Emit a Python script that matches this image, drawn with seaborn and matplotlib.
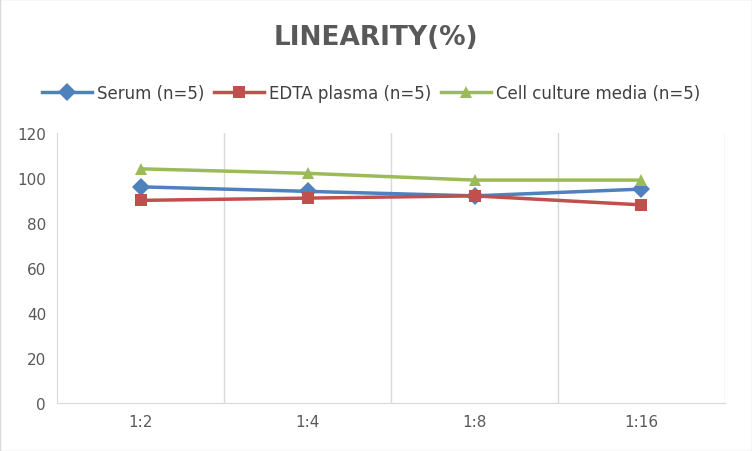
import matplotlib
matplotlib.use("Agg")
import matplotlib.pyplot as plt
import seaborn as sns
import pandas as pd

categories = ["1:2", "1:4", "1:8", "1:16"]
serum = [96, 94, 92, 95]
edta = [90, 91, 92, 88]
cell = [104, 102, 99, 99]
series_names = ["Serum (n=5)", "EDTA plasma (n=5)", "Cell culture media (n=5)"]

rows = []
for name, vals in zip(series_names, [serum, edta, cell]):
    for i, v in enumerate(vals):
        rows.append({"x": i, "y": v, "series": name})
df = pd.DataFrame(rows)

fig = plt.figure(figsize=(7.52, 4.52), dpi=100)
ax = fig.add_axes([0.076, 0.106, 0.888, 0.598])
colors = ["#4F81BD", "#C0504D", "#9BBB59"]
markers = ["D", "s", "^"]
sns.lineplot(data=df, x="x", y="y", hue="series", style="series", markers=markers,
             dashes=False, palette=colors, linewidth=2.5, markersize=9,
             markeredgewidth=0, ax=ax)
ax.set_xlim(-0.5, 3.5)
ax.set_ylim(0, 120)
ax.set_yticks(range(0, 121, 20))
ax.set_xticks(range(4))
ax.set_xticklabels(categories)
for xv in [0.5, 1.5, 2.5, 3.5]:
    ax.axvline(xv, color="#D9D9D9", lw=1, zorder=0)
for s in ["top", "right"]:
    ax.spines[s].set_visible(False)
ax.spines["left"].set_color("#D9D9D9")
ax.spines["bottom"].set_color("#D9D9D9")
ax.tick_params(length=0, labelsize=11, colors="#595959", pad=8)
ax.set_xlabel("")
ax.set_ylabel("")
h, l = ax.get_legend_handles_labels()
ax.legend(h, l, loc="lower center", bbox_to_anchor=(0.47, 1.06), ncol=3, frameon=False,
          fontsize=12, labelcolor="#404040", handlelength=3, columnspacing=0.6, handletextpad=0.3)
fig.text(0.5, 0.915, "LINEARITY(%)", ha="center", va="center", fontsize=19,
         fontweight="bold", color="#595959")
fig.patches.append(plt.Rectangle((0, 0), 1, 1, transform=fig.transFigure, fill=False,
                                 edgecolor="#D9D9D9", lw=1))
fig.savefig("out.png", dpi=100)
